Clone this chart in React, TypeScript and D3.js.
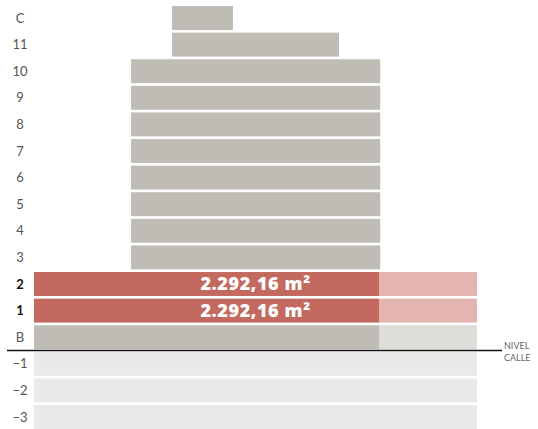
import React, { useEffect, useRef } from 'react';
import * as d3 from 'd3';

// floors from top to bottom
const floors = ['C', '11', '10', '9', '8', '7', '6', '5', '4', '3', '2', '1', 'B', '−1', '−2', '−3'];
// built area of each floor, start and end along the lot (m²)
const floorStart = [917, 917, 645, 645, 645, 645, 645, 645, 645, 645, 0, 0, 0, 0, 0, 0];
const floorEnd = [1322, 2026, 2300, 2300, 2300, 2300, 2300, 2300, 2300, 2300, 2292.16, 2292.16, 2292.16, 2943, 2943, 2943];
const floorKind = ['tower', 'tower', 'tower', 'tower', 'tower', 'tower', 'tower', 'tower', 'tower', 'tower', 'sale', 'sale', 'base', 'under', 'under', 'under'];
// rest of the lot beside the podium
const lotEnd = 2943;
const saleLabel = '2.292,16 m²';

const colors: Record<string, string> = {
  tower: '#bfbcb5',
  sale: '#c4695f',
  base: '#bfbcb5',
  under: '#ebe9e7',
};
const restColors: Record<string, string> = {
  sale: '#e4b5b0',
  base: '#dfddd9',
};

const App = () => {
  const svgRef = useRef<SVGSVGElement>(null);

  useEffect(() => {
    const width = 538;
    const height = 429;
    const svg = d3.select(svgRef.current).attr('width', width).attr('height', height);
    svg.selectAll('*').remove();

    const x = d3.scaleLinear().domain([0, lotEnd]).range([34, 477]);
    const y = d3.scaleBand().domain(floors).range([4.7, 430.3]).paddingInner(0.1).paddingOuter(0.05);

    const rows = floors.map((f, i) => ({ f, s: floorStart[i], e: floorEnd[i], k: floorKind[i] }));

    const g = svg.append('g');

    // rest of lot beside podium floors
    g.selectAll('rect.rest')
      .data(rows.filter((d) => restColors[d.k]))
      .join('rect')
      .attr('class', 'rest')
      .attr('x', (d) => x(d.e))
      .attr('y', (d) => y(d.f)!)
      .attr('width', (d) => x(lotEnd) - x(d.e))
      .attr('height', y.bandwidth())
      .attr('fill', (d) => restColors[d.k]);

    g.selectAll('rect.floor')
      .data(rows)
      .join('rect')
      .attr('class', 'floor')
      .attr('x', (d) => x(d.s))
      .attr('y', (d) => y(d.f)!)
      .attr('width', (d) => x(d.e) - x(d.s))
      .attr('height', y.bandwidth())
      .attr('fill', (d) => colors[d.k]);

    // area labels on sale floors, centred on the tower
    const mid = (floorStart[2] + floorEnd[2]) / 2;
    g.selectAll('text.area')
      .data(rows.filter((d) => d.k === 'sale'))
      .join('text')
      .attr('class', 'area')
      .attr('x', x(mid))
      .attr('y', (d) => y(d.f)! + y.bandwidth() / 2)
      .attr('dy', '0.36em')
      .attr('text-anchor', 'middle')
      .attr('fill', '#fff')
      .attr('font-family', '"Open Sans", sans-serif')
      .attr('font-weight', 800)
      .attr('font-size', 18)
      .attr('letter-spacing', 0.6)
      .text(saleLabel);

    // floor names
    g.selectAll('text.floor')
      .data(rows)
      .join('text')
      .attr('class', 'floor')
      .attr('x', 20)
      .attr('y', (d) => y(d.f)! + y.bandwidth() / 2)
      .attr('dy', '0.36em')
      .attr('text-anchor', 'middle')
      .attr('fill', (d) => (d.k === 'sale' ? '#111' : '#555'))
      .attr('font-family', 'Lato, sans-serif')
      .attr('font-weight', (d) => (d.k === 'sale' ? 700 : 400))
      .attr('font-size', 13)
      .text((d) => d.f);

    // street level
    const streetY = y('B')! + y.bandwidth() + (y.step() - y.bandwidth()) / 2;
    g.append('line')
      .attr('x1', 7)
      .attr('x2', 502)
      .attr('y1', streetY)
      .attr('y2', streetY)
      .attr('stroke', '#111')
      .attr('stroke-width', 1.6);

    const lbl = g.append('text')
      .attr('x', 504)
      .attr('fill', '#666')
      .attr('font-family', 'Lato, sans-serif')
      .attr('font-size', 9);
    lbl.append('tspan').attr('x', 504).attr('y', streetY - 2).text('NIVEL');
    lbl.append('tspan').attr('x', 504).attr('y', streetY + 10).text('CALLE');
  }, []);

  return (
    <div style={{ position: 'absolute', left: 0, top: 0 }}>
      <svg ref={svgRef}></svg>
    </div>
  );
};

export default App;
